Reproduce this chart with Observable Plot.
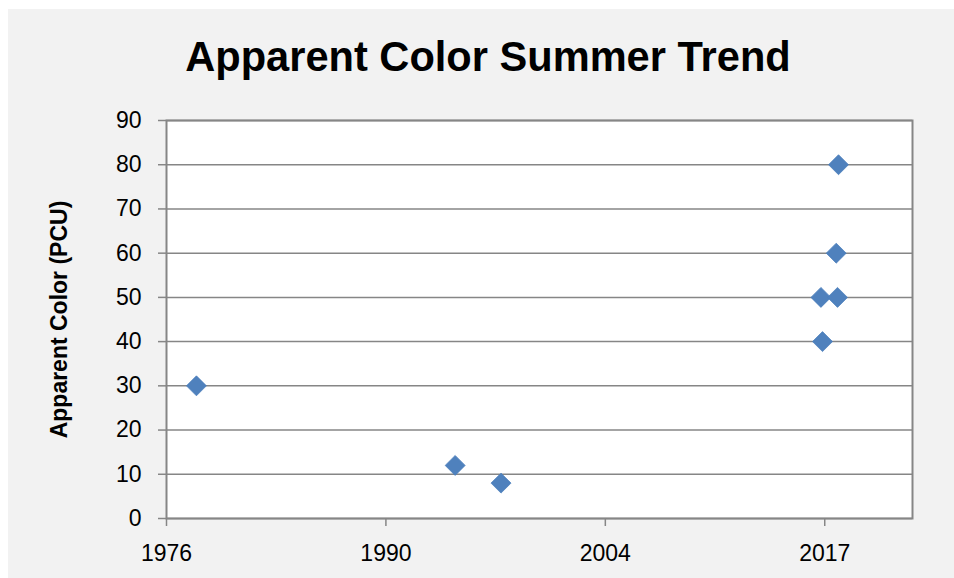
<!DOCTYPE html>
<html>
<head>
<meta charset="utf-8">
<script src="https://cdn.jsdelivr.net/npm/d3@7"></script>
<script src="https://cdn.jsdelivr.net/npm/@observablehq/plot@0.6"></script>
<style>
  html, body { margin: 0; padding: 0; background: #ffffff; }
  #wrap { position: relative; width: 954px; height: 578px; overflow: hidden; }
  #panel { position: absolute; left: 8px; top: 9px; width: 946px; height: 569px; background: #f2f2f2; }
  #title { position: absolute; left: 0; width: 976px; top: 32px; text-align: center;
           font-family: "Liberation Sans", Arial, sans-serif; font-weight: bold; font-size: 41.6px;
           color: #000; line-height: 50px; }
  #plot { position: absolute; left: 0; top: 0; }
  #plot svg { background: transparent; }
</style>
</head>
<body>
<div id="wrap">
  <div id="panel"></div>
  <div id="plot"></div>
  <div id="title">Apparent Color Summer Trend</div>
</div>
<script>
// ---- data ----
const sampleDates = ["1978-07-11", "1994-09-01", "1997-07-12", "2017-06-27", "2017-08-02", "2018-06-11", "2018-07-10", "2018-08-02"];
const colorPCU = [30, 12, 8, 50, 40, 60, 50, 80];
// Excel serial-date axis bounds and major ticks
const xDomainSerials = [28000, 45000];
const xTickSerials = [28000, 33000, 38000, 43000];
const yTicks = [0, 10, 20, 30, 40, 50, 60, 70, 80, 90];
const titleText = "Apparent Color Summer Trend";
const yTitle = "Apparent Color (PCU)";

const serialToDate = s => new Date(Date.UTC(1899, 11, 30) + s * 86400000);
const data = sampleDates.map((d, i) => ({date: new Date(d + "T00:00:00Z"), value: colorPCU[i]}));

const font = '"Liberation Sans", Arial, sans-serif';
const gridColor = "#868686";

const chart = Plot.plot({
  width: 954,
  height: 578,
  marginLeft: 166,
  marginRight: 42,
  marginTop: 120,
  marginBottom: 60,
  style: {fontFamily: font, fontSize: "23px", color: "#000", background: "transparent"},
  x: {type: "utc", domain: xDomainSerials.map(serialToDate)},
  y: {domain: [0, 90]},
  marks: [
    Plot.frame({fill: "white", stroke: null}),
    Plot.ruleY(yTicks, {stroke: gridColor, strokeWidth: 1.5}),
    Plot.frame({stroke: gridColor, strokeWidth: 2, fill: null}),
    Plot.axisY({ticks: yTicks, tickSize: 8, tickPadding: 17, stroke: gridColor, strokeWidth: 1.5,
                fill: "#000", fontSize: 23, label: null, strokeOpacity: 1}),
    Plot.axisX({ticks: xTickSerials.map(serialToDate), tickFormat: d3.utcFormat("%Y"), tickSize: 8,
                tickPadding: 18, stroke: gridColor, strokeWidth: 1.5, fill: "#000", fontSize: 23,
                label: null, strokeOpacity: 1}),
    Plot.text([yTitle], {frameAnchor: "left", text: d => d, rotate: -90, dx: -107,
                         textAnchor: "middle", lineAnchor: "middle",
                         fontWeight: "bold", fontSize: 23, fill: "#000"}),
    Plot.dot(data, {x: "date", y: "value", symbol: "diamond2", r: 9, fill: "#4f81bd",
                    stroke: "#4a7ebb", strokeWidth: 0.75})
  ]
});
document.getElementById("plot").appendChild(chart);
document.getElementById("title").textContent = titleText;
</script>
</body>
</html>
